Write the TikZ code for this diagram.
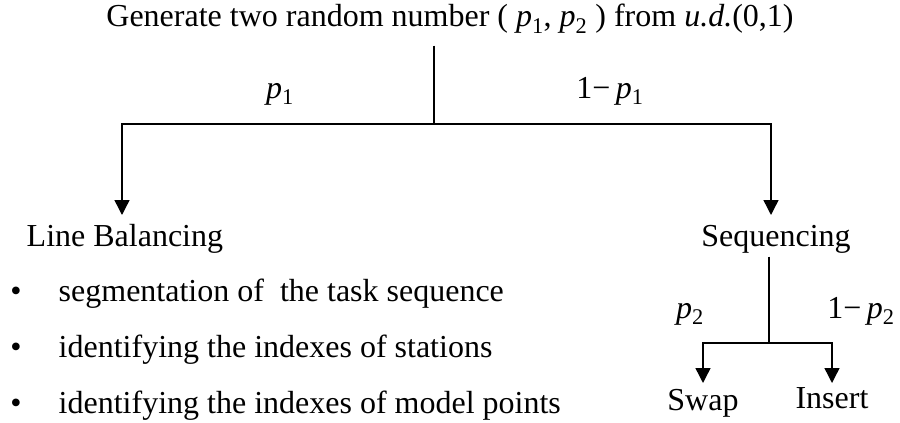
\documentclass[tikz,border=0pt]{standalone}
\usepackage{fontspec}
\setmainfont{Liberation Serif}
\usetikzlibrary{arrows.meta}
\newcommand{\pv}[1]{\textit{p}\textsubscript{#1}}

\begin{document}
\begin{tikzpicture}[
        x=1pt, y=-1pt,
        txt/.style={anchor=base, inner sep=0pt, font=\fontsize{32}{38}\selectfont},
        lbl/.style={anchor=base, inner sep=0pt, font=\fontsize{32}{38}\selectfont},
        arr/.style={-{Triangle[length=15pt, width=15pt]}},
        every path/.style={line width=1.4pt}
    ]
    \useasboundingbox (0,0) rectangle (900,423);

    % Top split
    \node[txt] (title) at (450,27) {Generate two random number ( \pv{1}, \pv{2} ) from \textit{u.d.}(0,1)};
    \coordinate (top) at (434,124);
    \coordinate (lend) at (122,215);
    \coordinate (rend) at (771,215);

    \draw[shorten <=11pt] (title.south -| top) -- (top);
    \draw[arr] (top) -| (lend);
    \draw[arr] (top) -| (rend);

    \node[lbl] (p1l) at (280,98) {\pv{1}};
    \node[lbl] (p1r) at (610,98) {1−\,\pv{1}};

    % Line balancing side
    \node[txt, anchor=base west] (lb) at (26,246) {Line Balancing};
    \node[txt] (d1) at (16,301) {•};
    \node[txt, anchor=base west] (i1) at (58,301) {segmentation of\ \ the task sequence};
    \node[txt] (d2) at (16,357) {•};
    \node[txt, anchor=base west] (i2) at (58,357) {identifying the indexes of stations};
    \node[txt] (d3) at (16,413) {•};
    \node[txt, anchor=base west] (i3) at (58,413) {identifying the indexes of model points};

    % Sequencing side
    \node[txt] (seq) at (776,246) {Sequencing};
    \coordinate (sub) at (769,343);
    \coordinate (swapend) at (703,383);
    \coordinate (insend) at (832,383);

    \draw[shorten <=3pt] (seq.south -| sub) -- (sub);
    \draw[arr] (sub) -| (swapend);
    \draw[arr] (sub) -| (insend);

    \node[lbl] (p2l) at (690,318) {\pv{2}};
    \node[lbl] (p2r) at (861,318) {1−\,\pv{2}};

    \node[txt] (swap) at (703,410) {Swap};
    \node[txt] (insert) at (832,408) {Insert};

\end{tikzpicture}
\end{document}
